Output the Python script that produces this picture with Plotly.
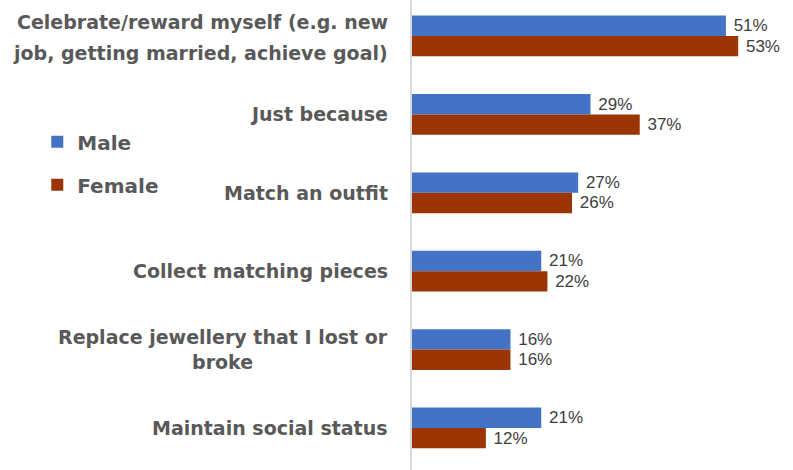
import plotly.graph_objects as go

categories = [
    "Celebrate/reward myself (e.g. new<br>job, getting married, achieve goal)",
    "Just because",
    "Match an outfit",
    "Collect matching pieces",
    "Replace jewellery that I lost or<br>broke",
    "Maintain social status",
]
male = [51, 29, 27, 21, 16, 21]
female = [53, 37, 26, 22, 16, 12]

BLUE = "#4472C4"
RUST = "#9C3505"
GREY_TEXT = "#595959"
LABEL_FONT = dict(family="Liberation Sans", size=17, color="#3E3E3E")
CAT_FONT = dict(family="DejaVu Sans", size=19, color=GREY_TEXT, weight="bold")

PLOT_LEFT = 412
PLOT_W = 793 - PLOT_LEFT
LABEL_RIGHT = (390 - PLOT_LEFT) / PLOT_W

fig = go.Figure()
fig.add_trace(go.Bar(
    y=categories, x=male, name="Male", orientation="h",
    marker=dict(color=BLUE, line=dict(width=0)), legendgroup="m",
    text=[f" {v}%" for v in male], textposition="outside",
    textfont=LABEL_FONT, cliponaxis=False,
))
fig.add_trace(go.Bar(
    y=categories, x=female, name="Female", orientation="h",
    marker=dict(color=RUST, line=dict(width=0)), legendgroup="f",
    text=[f" {v}%" for v in female], textposition="outside",
    textfont=LABEL_FONT, cliponaxis=False,
))

# category labels to the left of the axis; the first one is set as two
# right-aligned lines with wider leading, the others as one block with
# wrapped lines centred
for i, cat in enumerate(categories):
    if i == 0:
        lines = cat.split("<br>")
        for line, shift in zip(lines, (14, -17)):
            fig.add_annotation(
                x=LABEL_RIGHT, xref="paper", y=cat, yref="y", yshift=shift,
                text=line, showarrow=False, xanchor="right", yanchor="middle",
                font=CAT_FONT,
            )
    else:
        fig.add_annotation(
            x=LABEL_RIGHT, xref="paper", y=cat, yref="y",
            text=cat, showarrow=False, xanchor="right", yanchor="middle",
            align="center", font=CAT_FONT,
        )

fig.update_layout(
    width=793, height=470,
    margin=dict(l=PLOT_LEFT, r=0, t=0, b=0, autoexpand=False),
    barmode="group", bargap=0.48, bargroupgap=0,
    plot_bgcolor="white", paper_bgcolor="white",
    font=dict(family="DejaVu Sans", color=GREY_TEXT),
    legend=dict(
        xref="container", yref="container",
        x=0.047, y=0.74, xanchor="left", yanchor="top",
        font=dict(family="DejaVu Sans", size=20, color=GREY_TEXT, weight="bold"),
        tracegroupgap=14, itemwidth=30,
    ),
    xaxis=dict(range=[0, 61.9], visible=False, showgrid=False, zeroline=False),
    yaxis=dict(
        range=[5.536, -0.459], showgrid=False, zeroline=False,
        showline=True, linecolor="#D9D9D9", linewidth=1.5,
        ticks="", showticklabels=False, automargin=False,
    ),
)

fig.write_html("out.html")
